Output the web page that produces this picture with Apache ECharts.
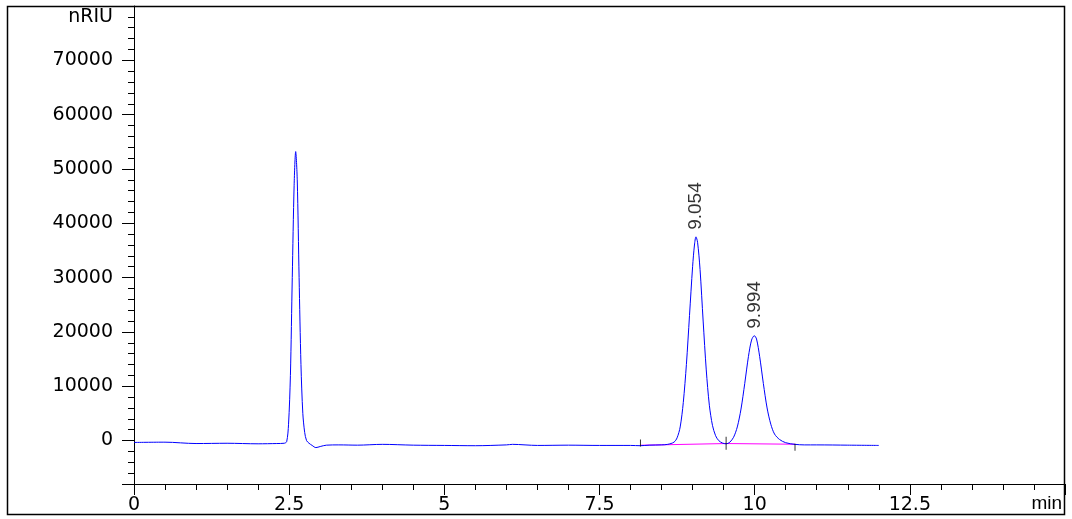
<!DOCTYPE html>
<html><head><meta charset="utf-8">
<script src="https://cdn.jsdelivr.net/npm/echarts@6/dist/echarts.min.js"></script>
<style>html,body{margin:0;padding:0;background:#fff}#c{width:1072px;height:519px}</style>
</head><body><div id="c"></div>
<script>
// Chromatogram trace (min, nRIU)
const traceTime = [0,0.5,1.0,1.5,2.0,2.3,2.42,2.46,2.49,2.52,2.55,2.58,2.605,2.63,2.66,2.69,2.72,2.75,2.78,2.82,2.87,2.93,3.0,3.1,3.3,3.6,4.0,4.5,5.0,5.5,6.0,6.1,6.5,7.0,7.5,8.0,8.16,8.3,8.5,8.6,8.7,8.75,8.8,8.85,8.9,8.95,9.0,9.03,9.054,9.08,9.12,9.17,9.22,9.27,9.32,9.37,9.42,9.48,9.54,9.6,9.66,9.72,9.78,9.84,9.9,9.95,9.994,10.03,10.08,10.14,10.2,10.26,10.32,10.4,10.5,10.65,10.8,11.0,11.5,12.0];
const traceSignal = [-350,-300,-550,-500,-600,-550,-500,-200,3000,12000,30000,47000,53200,48000,30000,14000,5000,1500,0,-500,-900,-1300,-1100,-850,-800,-850,-700,-850,-900,-950,-800,-700,-900,-850,-900,-900,-950,-850,-800,-700,-300,500,2500,7000,14000,23000,32000,36000,37500,36500,31500,22000,13000,6500,2800,900,0,-450,-600,-300,600,2500,5800,10500,15500,18500,19300,18700,15500,10500,6000,3000,1200,200,-400,-700,-800,-800,-850,-900];
// Integration baseline (magenta)
const baseTime = [8.16, 9.54, 10.65];
const baseSignal = [-866, -552, -681];
// Integration event markers
const markerTime = [8.16, 9.54, 10.65];
const markerSignal = [-450, -500, -1250];
const markerLen = [7, 13, 7];
// Peak labels
const peakTime = [9.054, 9.994];
const peakHeight = [37500, 19300];
// Axis
const xMin = 0, xMax = 15, xStep = 2.5;
const yMin = -8000, yMax = 80000, yStep = 10000;
const yUnit = 'nRIU', xUnit = 'min';

const trace = traceTime.map((t, i) => [t, traceSignal[i]]);
const base = baseTime.map((t, i) => [t, baseSignal[i]]);
const markers = markerTime.map((t, i) => ({value: [t, markerSignal[i]], symbolSize: [1, markerLen[i]]}));
const peaks = peakTime.map((t, i) => [t, peakHeight[i]]);

const axisFont = {fontFamily: 'DejaVu Sans', fontSize: 19, color: '#000'};
const chart = echarts.init(document.getElementById('c'), null, {renderer: 'canvas'});
chart.setOption({
  animation: false,
  backgroundColor: '#fff',
  grid: {left: 134, right: 7, top: 6, bottom: 35, containLabel: false},
  xAxis: {
    type: 'value', min: xMin, max: xMax, interval: xStep,
    axisLine: {show: true, onZero: false, lineStyle: {color: '#000', width: 1}},
    axisTick: {show: true, inside: false, length: 11, lineStyle: {color: '#000'}},
    minorTick: {show: true, splitNumber: 5, length: 6, lineStyle: {color: '#000'}},
    splitLine: {show: false},
    axisLabel: Object.assign({margin: 12, showMaxLabel: false,
      formatter: v => (v === xMax ? '' : String(v))}, axisFont)
  },
  yAxis: {
    type: 'value', min: yMin, max: yMax, splitNumber: 9, minInterval: yStep, maxInterval: yStep,
    axisLine: {show: true, onZero: false, lineStyle: {color: '#000', width: 1}},
    axisTick: {show: true, inside: false, length: 12, lineStyle: {color: '#000'}},
    minorTick: {show: true, splitNumber: 5, length: 6, lineStyle: {color: '#000'}},
    splitLine: {show: false},
    axisLabel: Object.assign({margin: 21,
      formatter: v => ((v === yMin || v === yMax) ? '' : String(v))}, axisFont)
  },
  series: [
    {type: 'line', data: trace, showSymbol: false, smooth: 0.3, clip: true,
     lineStyle: {color: '#0000ff', width: 1}, z: 3},
    {type: 'line', data: base, showSymbol: false,
     lineStyle: {color: '#ff00ff', width: 1}, z: 2},
    {type: 'scatter', data: markers, symbol: 'rect', itemStyle: {color: '#000'}, z: 4},
    {type: 'scatter', data: peaks, symbolSize: 0, z: 5,
     label: {show: true, position: 'top', distance: 7, rotate: 90, align: 'left', verticalAlign: 'middle',
       fontFamily: 'Liberation Sans', fontSize: 19, color: '#000',
       formatter: p => p.value[0].toFixed(3)}}
  ],
  graphic: [
    {type: 'rect', shape: {x: 7.5, y: 6.5, width: 1057, height: 508},
     style: {fill: 'none', stroke: '#000', lineWidth: 1.5}, silent: true},
    {type: 'text', x: 113, y: 17, style: {text: yUnit, align: 'right', verticalAlign: 'middle',
      font: '19px "DejaVu Sans"', fill: '#000'}},
    {type: 'text', x: 1062, y: 504, style: {text: xUnit, align: 'right', verticalAlign: 'middle',
      font: '19px "Liberation Sans"', fill: '#000'}}
  ]
});
</script>
</body></html>
